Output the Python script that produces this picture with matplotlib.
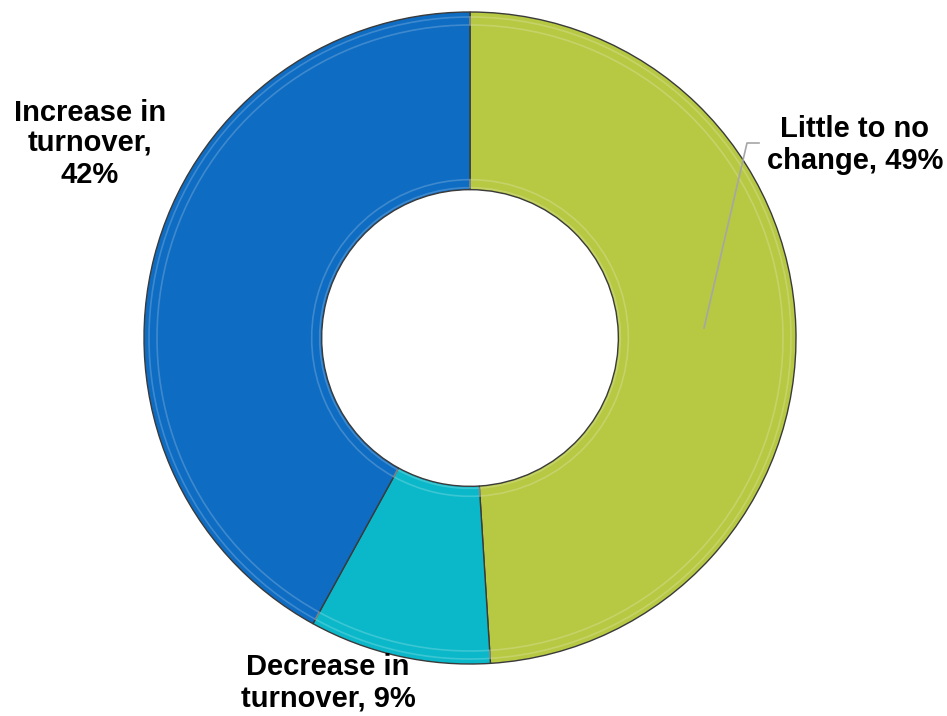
import matplotlib.pyplot as plt
import numpy as np

# Data
categories = ["Little to no\nchange, 49%", "Decrease in\nturnover, 9%", "Increase in\nturnover,\n42%"]
values = [49, 9, 42]
colors = ["#B7C843", "#0BB8C9", "#0E6CC2"]

plt.rcParams['font.family'] = ['Liberation Sans', 'DejaVu Sans']

W, H = 947, 716
fig = plt.figure(figsize=(W / 100, H / 100), dpi=100)
ax = fig.add_axes([0, 0, 1, 1])

cx, cy = 470, H - 338
r_out = 326
ring = 0.545

# Main donut
wedges, _ = ax.pie(values, colors=colors, startangle=90, counterclock=False,
                   center=(cx, cy), radius=r_out, frame=True,
                   wedgeprops=dict(width=r_out * ring, edgecolor='#3a3a3a', linewidth=1.0))

# Soft bevel highlights to mimic the 3D look
ax.pie(values, colors=['none'] * 3, startangle=90, counterclock=False,
       center=(cx, cy), radius=r_out - 5,
       wedgeprops=dict(width=8, edgecolor=(1, 1, 1, 0.2), linewidth=1.2, fill=False))
ax.pie(values, colors=['none'] * 3, startangle=90, counterclock=False,
       center=(cx, cy), radius=r_out * (1 - ring) + 10,
       wedgeprops=dict(width=8, edgecolor=(1, 1, 1, 0.2), linewidth=1.2, fill=False))

ax.set_xlim(0, W)
ax.set_ylim(0, H)
ax.set_aspect('equal')
ax.axis('off')

# Labels
label_pos = [(855, H - 145), (328, H - 683), (90, H - 144)]
for text, (x, y) in zip(categories, label_pos):
    ax.text(x, y, text, ha='center', va='center', fontsize=21,
            fontweight='bold', color='black', linespacing=1.15)

# Leader line for the green slice
ax.plot([759, 747, 704], [H - 143, H - 143, H - 328], color='#A6A6A6', lw=1.2)

fig.savefig("out.png", dpi=100)
